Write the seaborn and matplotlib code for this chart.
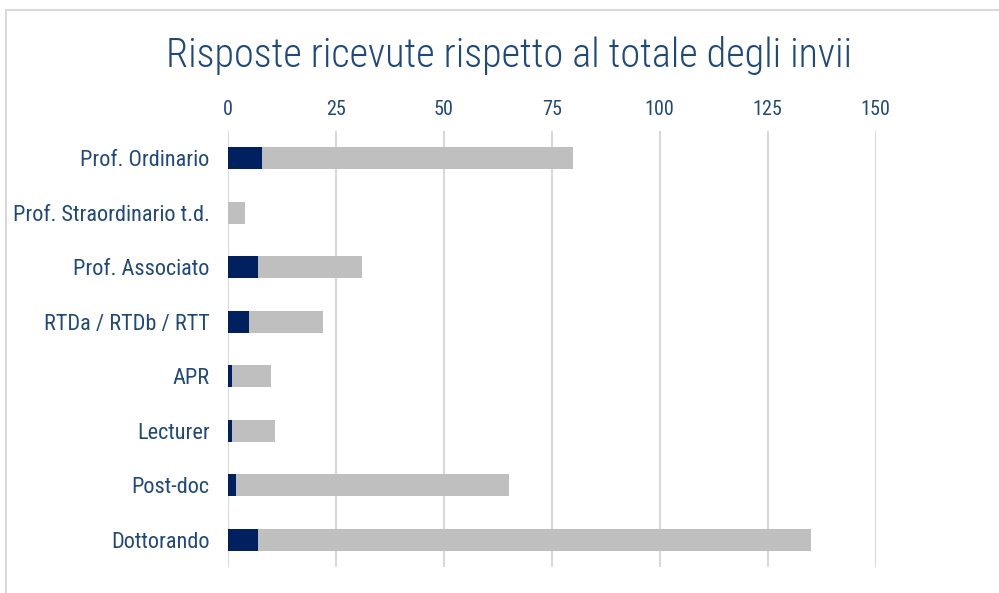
import pandas as pd
import seaborn as sns
import matplotlib.pyplot as plt
from matplotlib.patches import Rectangle

# Data
categories = ['Prof. Ordinario', 'Prof. Straordinario t.d.', 'Prof. Associato',
              'RTDa / RTDb / RTT', 'APR', 'Lecturer', 'Post-doc', 'Dottorando']
invii = [80, 4, 31, 22, 10, 11, 65, 135]
risposte = [8, 0, 7, 5, 1, 1, 2, 7]
ticks = [0, 25, 50, 75, 100, 125, 150]

df = pd.DataFrame({'categoria': categories, 'invii': invii, 'risposte': risposte})

sns.set_theme(style='white')
plt.rcParams['font.family'] = ['Roboto Condensed', 'DejaVu Sans']

text_col = '#1F497D'
fig = plt.figure(figsize=(9.99, 5.93), dpi=100)
ax = fig.add_axes([0.228, 0.044, 0.6486, 0.735])

sns.barplot(data=df, x='invii', y='categoria', color='#BFBFBF', width=0.4,
            saturation=1, linewidth=0, ax=ax, zorder=2)
sns.barplot(data=df, x='risposte', y='categoria', color='#002060', width=0.4,
            saturation=1, linewidth=0, ax=ax, zorder=3)

ax.set_xlim(0, 150)
ax.set_xticks(ticks)
ax.xaxis.tick_top()
ax.tick_params(axis='x', length=0, pad=9, labelsize=14.5, labelcolor=text_col)
ax.tick_params(axis='y', length=0, pad=13, labelsize=16, labelcolor=text_col)
ax.set_xlabel('')
ax.set_ylabel('')
ax.grid(axis='x', color='#D9D9D9', linewidth=1.5, zorder=0)
ax.set_axisbelow(True)
for s in ax.spines.values():
    s.set_visible(False)

fig.suptitle('Risposte ricevute rispetto al totale degli invii', x=0.51, y=0.94,
             fontsize=29, fontweight='light', color=text_col)

# outer chart border (left and top edges visible)
fig.patches.append(Rectangle((6 / 999, -0.1), 1.2, 1.1 - 10 / 593, transform=fig.transFigure,
                             fill=False, edgecolor='#D9D9D9', linewidth=1.5))

fig.savefig('out.png', dpi=100)
